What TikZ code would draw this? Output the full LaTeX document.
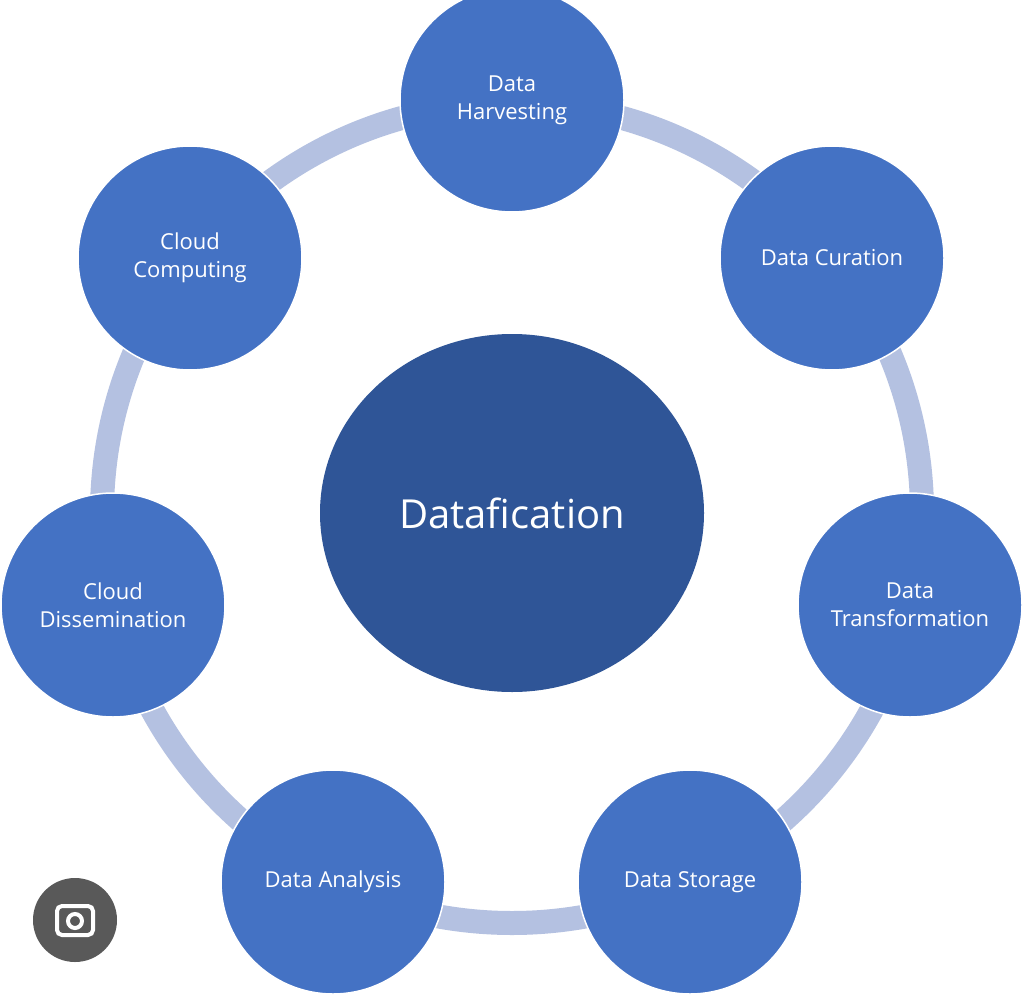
\documentclass[tikz,border=0pt]{standalone}
\usepackage{fontspec}
\setmainfont{Open Sans}
\usetikzlibrary{shapes.geometric}
\definecolor{outerc}{HTML}{4472C4}
\definecolor{innerc}{HTML}{2F5597}
\definecolor{ringc}{HTML}{B4C1E1}
\tikzset{
  sat/.style={circle, fill=outerc, draw=white, line width=1.5pt, minimum size=224pt, inner sep=0pt, text=white, align=center, font=\fontsize{22pt}{28pt}\selectfont},
}
\begin{document}
\begin{tikzpicture}[x=1pt,y=-1pt]
\useasboundingbox[fill=white] (0,0) rectangle (1024,995);
\coordinate (c) at (512,513);
\draw[ringc, line width=24pt] (c) circle[radius=410];
\node[ellipse, fill=innerc, minimum width=384pt, minimum height=358pt, text=white, font=\fontsize{40pt}{46pt}\selectfont] (center) at (c) {Datafication};
\node[sat] (h) at (512,100) {Data\\Harvesting};
\node[sat] (cu) at (832,258) {Data Curation};
\node[sat] (t) at (910,605) {Data\\Transformation};
\node[sat] (s) at (690,882) {Data Storage};
\node[sat] (a) at (333,882) {Data Analysis};
\node[sat] (d) at (113,605) {Cloud\\Dissemination};
\node[sat] (cc) at (190,258) {Cloud\\Computing};
\node[circle, fill=black!65, minimum size=84pt] (lens) at (75,920) {};
\draw[white, line width=4pt, rounded corners=5pt] (57,906) rectangle (93,935);
\draw[white, line width=4pt] (75,921) circle[radius=7];
\end{tikzpicture}
\end{document}
